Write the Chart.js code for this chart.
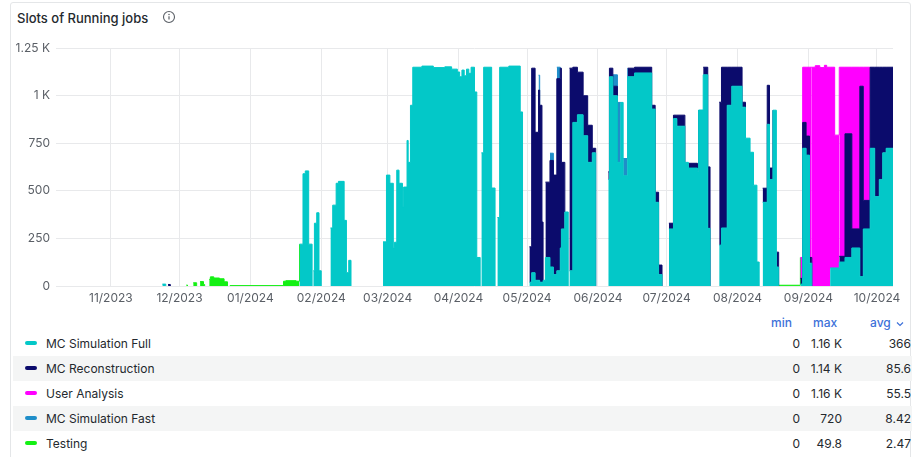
<!DOCTYPE html>
<html>
<head>
<meta charset="utf-8">
<script src="https://cdn.jsdelivr.net/npm/chart.js@4.4.1/dist/chart.umd.min.js"></script>
<style>
body { margin: 0; background: #fff; font-family: Inter, "Noto Sans", sans-serif; width: 914px; height: 457px; overflow: hidden; position: relative; }
.panel { position: absolute; left: 10px; top: 2px; width: 901px; height: 470px; border: 1px solid #e4e6e8; border-radius: 3px; box-sizing: border-box; }
.title { position: absolute; left: 17px; top: 10px; font-size: 13px; font-weight: 500; color: #24292e; }
.icon { position: absolute; left: 162px; top: 10px; }
#wrap { position: absolute; left: 0; top: 35px; width: 914px; height: 280px; }
.hdr { position: absolute; top: 315px; font-size: 12px; font-weight: 500; color: #3d71d9; }
.row { position: absolute; left: 13px; width: 899px; height: 25px; font-size: 12px; color: #24292e; }
.row.shade { background: #f4f5f5; }
.row span { position: absolute; top: 5px; white-space: nowrap; }
.sw { position: absolute; left: 12px; top: 10px; width: 12px; height: 4px; border-radius: 2px; }
</style>
</head>
<body>
<div class="panel"></div>
<div class="title">Slots of Running jobs</div>
<svg class="icon" width="14" height="14" viewBox="0 0 14 14"><circle cx="7" cy="7" r="5.5" fill="none" stroke="#5a5f66" stroke-width="1.1"/><line x1="7" y1="6.3" x2="7" y2="9.6" stroke="#5a5f66" stroke-width="1.2"/><circle cx="7" cy="4.5" r="0.75" fill="#5a5f66"/></svg>
<div id="wrap"><canvas id="myChart"></canvas></div>
<div id="legend"></div>
<script>
// day 0 = 2023-10-08, panel shows the last year (366 days)
const startDay = Date.UTC(2023, 9, 8);
const rangeDays = 366;

const seriesNames = ['MC Simulation Full', 'MC Reconstruction', 'User Analysis', 'MC Simulation Fast', 'Testing'];
const seriesColors = ['#03c8c8', '#0b0b6c', '#ff00ff', '#1f8ec9', '#14f014'];

// [day, value] : value holds from that day until the next entry
const simFull = [[46.5,10],[48,0],
  [106.5,220],[108,590],[109,605],[110.5,220],[112,0],
  [112.5,80],[113,330],[114,385],[115,80],[116,0],
  [120,305],[121,425],[122.5,540],[123.5,550],[126,345],[127,70],[128,135],[129,0],
  [143,232],[144.5,583],[146,540],[147.5,200],[148,230],[149,609],[150,540],[151.5,415],[152,520],[153.5,765],[154,650],[155,950],
  [156,1150],[160,1156],[165,1148],[170,1152],[173,1140],[175.5,1125],[176.5,1100],[177.5,1135],[178.5,1105],[179.5,1140],[180.5,1118],[181.5,1150],[183,1020],[184,150],[185.5,0],
  [186,700],[187,1150],[190.5,515],[192,0],[193,360],[194,1150],[198,1156],[203,915],[204,0],
  [207,20],[208,70],[209.5,30],[211,30],[211.5,20],[213,30],[214,150],[216,100],[217.5,60],[219,80],[220.5,200],[221,300],[222.5,389],[224,0],
  [224.5,80],[226,860],[228,900],[230.5,790],[232.5,650],[234.5,700],[236,0],
  [241.5,560],[242,1100],[243.5,1000],[245.5,650],[247,965],[248,580],[250,1100],[253,1120],[260.5,930],[262,440],[263.5,60],[265,0],
  [268,300],[270,880],[271.5,840],[275,650],[276.5,620],[280.5,600],[281,925],[283,1110],[285,303],[286,0],
  [290,215],[291,305],[293.5,950],[295.5,1050],[300,940],[301.5,777],[303.5,703],[305,530],[306.5,126],[307.5,0],
  [309,440],[311,850],[312,560],[313.5,924],[315,100],[316,0],
  [325.5,10],[326.5,724],[328,688],[329.5,120],[330.5,0],[338.5,95],[342.5,126],[345,150],[348,200],[351.5,50],[353,300],[356,724],[358,470],[360,560],[361.5,700],[363,724]];

const mcReco = [[49,8],[50,0],
  [207,186],[208,1075],[209.5,778],[211,1000],[211.5,930],[212.5,316],[213,0],[214,396],[216,560],[217.5,523],[219,1010],[220.5,945],[221,350],[222.5,0],
  [224.5,1065],[226,290],[228,224],[230.5,210],[232.5,195],[234.5,24],[236,0],
  [241.5,40],[242,45],[243.5,50],[245.5,0],[250,45],[253,30],[260.5,20],[262,53],[263.5,50],[265,0],
  [268,30],[270,18],[271.5,58],[275,0],[276.5,25],[280.5,20],[281,0],[283,40],[285,323],[286,0],
  [290,751],[291,845],[293.5,200],[295.5,100],[300,26],[301.5,0],
  [309,74],[311,205],[312,60],[313.5,0],[315,78],[316,0],
  [325.5,30],[326.5,136],[328,100],[329.5,30],[330.5,0],[342.5,30],[345,650],[348,100],[351.5,1000],[353,150],[356,426],[358,680],[360,590],[361.5,450],[363,426]];

const userAna = [[325.5,110],[326.5,290],[328,362],[329.5,1000],[330.5,1150],[332,1158],[334,1148],[336,1160],[337,1150],
  [338.5,1055],[340.5,698],[342.5,994],[345,350],[348,850],[351.5,100],[353,700],[356,0]];

const simFast = [[211,78],[211.5,0],[216,38],[217.5,0],[219,60],[220.5,0],[243.5,60],[245.5,315],[247,0],[248,90],[250,0]];

const testing = [[57,5],[57.5,0],[60,17],[61.5,0],[63,23],[64.5,8],[65,0],[67,35],[67.5,48],[69,42],[71.5,38],[73.5,22],[75,0],
  [76,2],[99.5,25],[100.5,28],[105,25],[106.5,0],[316,4],[325.5,0]];

const monthLabels = ['11/2023','12/2023','01/2024','02/2024','03/2024','04/2024','05/2024','06/2024','07/2024','08/2024','09/2024','10/2024'];

const legendMin = ['0', '0', '0', '0', '0'];
const legendMax = ['1.16 K', '1.14 K', '1.16 K', '720', '49.8'];
const legendAvg = ['366', '85.6', '55.5', '8.42', '2.47'];

const runs = [simFull, mcReco, userAna, simFast, testing];

// shared x grid so the stacks line up
let grid = [0, rangeDays];
runs.forEach(r => r.forEach(p => grid.push(p[0])));
grid = [...new Set(grid)].sort((a, b) => a - b);

function valueAt(run, d) {
    let v = 0;
    for (const p of run) {
        if (p[0] <= d) v = p[1]; else break;
    }
    return v;
}

const monthDays = monthLabels.map(l => {
    const m = parseInt(l.slice(0, 2)) - 1;
    const y = parseInt(l.slice(3));
    return (Date.UTC(y, m, 1) - startDay) / 86400000;
});

const datasets = runs.map((run, i) => ({
    label: seriesNames[i],
    data: grid.map(d => ({ x: d, y: valueAt(run, d) })),
    backgroundColor: seriesColors[i],
    borderColor: seriesColors[i],
    borderWidth: 1,
    fill: i === 0 ? 'origin' : '-1',
    stepped: 'before',
    pointRadius: 0,
    segment: {
        borderColor: ctx => ctx.p0.parsed.y > 0 ? undefined : 'rgba(0,0,0,0)'
    }
}));

const tickColor = '#5a5f66';
const gridColor = '#e8e9eb';

const ctx = document.getElementById('myChart').getContext('2d');
const myChart = new Chart(ctx, {
    type: 'line',
    data: { datasets: datasets },
    options: {
        responsive: true,
        maintainAspectRatio: false,
        animation: false,
        layout: { padding: { top: 13, right: 21, left: 0, bottom: 0 } },
        plugins: {
            legend: { display: false },
            tooltip: { enabled: false }
        },
        scales: {
            x: {
                type: 'linear',
                min: 0,
                max: rangeDays,
                afterBuildTicks: scale => { scale.ticks = monthDays.map(v => ({ value: v })); },
                afterFit: scale => { scale.height = 29; },
                ticks: {
                    autoSkip: false,
                    maxRotation: 0,
                    padding: 5,
                    color: tickColor,
                    font: { family: 'Inter', size: 12 },
                    callback: (v, idx) => monthLabels[idx]
                },
                grid: { color: gridColor, drawTicks: false },
                border: { display: false }
            },
            y: {
                stacked: true,
                min: 0,
                max: 1250,
                afterFit: scale => { scale.width = 56; },
                ticks: {
                    stepSize: 250,
                    padding: 6,
                    color: tickColor,
                    font: { family: 'Inter', size: 12 },
                    callback: v => v >= 1000 ? (v / 1000) + ' K' : v
                },
                grid: { color: gridColor, drawTicks: false },
                border: { display: false }
            }
        }
    }
});

// legend table
const lg = document.getElementById('legend');
let html = '<div class="hdr" style="left:771px">min</div>' +
    '<div class="hdr" style="left:813px">max</div>' +
    '<div class="hdr" style="left:870px">avg <svg width="8" height="6" viewBox="0 0 8 6" style="margin-left:2px"><polyline points="1,1.5 4,4.5 7,1.5" fill="none" stroke="#3d71d9" stroke-width="1.2"/></svg></div>';
seriesNames.forEach((name, i) => {
    const top = 331 + i * 25;
    html += '<div class="row' + (i % 2 === 1 ? ' shade' : '') + '" style="top:' + top + 'px">' +
        '<div class="sw" style="background:' + seriesColors[i] + '"></div>' +
        '<span style="left:33px">' + name + '</span>' +
        '<span style="right:' + (912 - 800) + 'px">' + legendMin[i] + '</span>' +
        '<span style="right:' + (912 - 842) + 'px">' + legendMax[i] + '</span>' +
        '<span style="right:' + (912 - 911) + 'px">' + legendAvg[i] + '</span>' +
        '</div>';
});
lg.innerHTML = html;
</script>
</body>
</html>
